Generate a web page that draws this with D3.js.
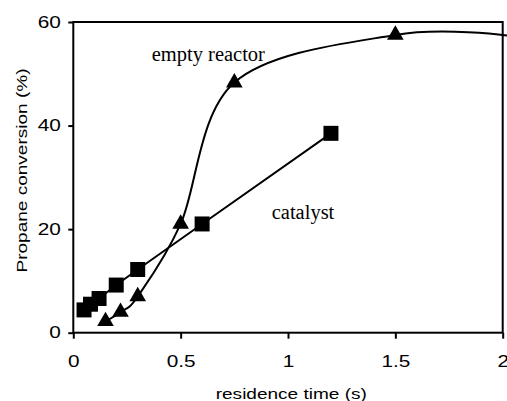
<!DOCTYPE html>
<html lang="en">
<head>
    <meta charset="UTF-8">
    <title>Propane conversion</title>
    <script src="https://d3js.org/d3.v7.min.js"></script>
    <style>
        body { margin: 0; background: white; }
        .tick text, .title { font-family: 'Liberation Sans', Arial, sans-serif; fill: black; }
        .lbl { font-family: 'Liberation Serif', 'Times New Roman', serif; font-size: 20.5px; fill: black; }
    </style>
</head>
<body>
<script>

    const width = 507;
    const height = 401;
    const margin = {top: 22, right: 4, bottom: 68, left: 73.3};

    // empty reactor (triangles)
    const emptyX = [0.15, 0.22, 0.30, 0.50, 0.75, 1.50];
    const emptyY = [2.2, 4.0, 7.0, 21.0, 48.3, 57.5];
    // where the smoothed line leaves the picture on the right
    const emptyTail = [2.02, 57.4];

    // catalyst (squares)
    const catX = [0.05, 0.08, 0.12, 0.20, 0.30, 0.60, 1.20];
    const catY = [4.4, 5.5, 6.6, 9.2, 12.2, 21.0, 38.5];

    const xTicks = [0, 0.5, 1, 1.5, 2];
    const yTicks = [0, 20, 40, 60];

    const empty = emptyX.map((x, i) => [x, emptyY[i]]);
    const catalyst = catX.map((x, i) => [x, catY[i]]);

    const plotW = 502.7 - margin.left;
    const plotH = 332.7 - margin.top;

    const x = d3.scaleLinear().domain([0, 2]).range([0, plotW]);
    const y = d3.scaleLinear().domain([0, 60]).range([plotH, 0]);

    const svg = d3.select("body").append("svg").attr("width", width).attr("height", height);
    const chart = svg.append("g").attr("transform", `translate(${margin.left},${margin.top})`);

    // axes
    const xAxis = chart.append("g").attr("transform", `translate(0,${plotH})`)
            .call(d3.axisBottom(x).tickValues(xTicks).tickSize(6).tickPadding(16.5)
                    .tickFormat(d => d3.format("")(d)));
    const yAxis = chart.append("g")
            .call(d3.axisLeft(y).tickValues(yTicks).tickSize(5).tickPadding(4.6));

    [xAxis, yAxis].forEach(a => {
        a.select(".domain").remove();
        a.selectAll(".tick line").attr("stroke", "black").attr("stroke-width", 2);
        a.selectAll(".tick text").style("font-size", "16px").attr("transform", "scale(1.3,1)");
    });

    // frame
    chart.append("rect")
            .attr("width", plotW).attr("height", plotH)
            .attr("fill", "none").attr("stroke", "black").attr("stroke-width", 2);

    // lines
    const smooth = d3.line()
            .x(d => x(d[0])).y(d => y(d[1]))
            .curve(d3.curveCardinal.tension(0));
    chart.append("path")
            .datum(empty.concat([emptyTail]))
            .attr("d", smooth)
            .attr("fill", "none").attr("stroke", "black").attr("stroke-width", 2);

    const straight = d3.line().x(d => x(d[0])).y(d => y(d[1]));
    chart.append("path")
            .datum(catalyst)
            .attr("d", straight)
            .attr("fill", "none").attr("stroke", "black").attr("stroke-width", 2);

    // markers
    chart.selectAll("path.sq")
            .data(catalyst)
            .enter().append("path").attr("class", "sq")
            .attr("d", d3.symbol().type(d3.symbolSquare).size(225))
            .attr("transform", d => `translate(${x(d[0])},${y(d[1])})`)
            .attr("fill", "black");

    chart.selectAll("path.tri")
            .data(empty)
            .enter().append("path").attr("class", "tri")
            .attr("d", d3.symbol().type(d3.symbolTriangle).size(120))
            .attr("transform", d => `translate(${x(d[0])},${y(d[1])})`)
            .attr("fill", "black");

    // series labels
    svg.append("text").attr("class", "lbl").attr("x", 151.7).attr("y", 61).text("empty reactor");
    svg.append("text").attr("class", "lbl").attr("x", 271.7).attr("y", 219).text("catalyst");

    // axis titles
    svg.append("text").attr("class", "title")
            .attr("transform", "translate(291.3,398.5) scale(1.27,1)")
            .attr("text-anchor", "middle").style("font-size", "15px")
            .text("residence time (s)");
    svg.append("text").attr("class", "title")
            .attr("transform", "translate(26.7,170.5) rotate(-90) scale(1.27,1)")
            .attr("text-anchor", "middle").style("font-size", "15px")
            .text("Propane conversion (%)");

</script>
</body>
</html>
